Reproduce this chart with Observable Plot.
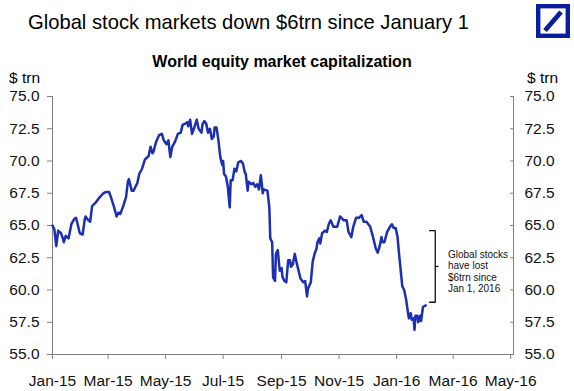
<!DOCTYPE html>
<html><head><meta charset="utf-8">
<script src="https://cdn.jsdelivr.net/npm/d3@7"></script>
<script src="https://cdn.jsdelivr.net/npm/@observablehq/plot@0.6"></script>
<style>
body{margin:0;background:#fff;}
#wrap{position:relative;width:574px;height:391px;font-family:"Liberation Sans",Arial,sans-serif;color:#000;overflow:hidden;background:#fff}
#chart{position:absolute;left:0;top:0}
.t{position:absolute;white-space:nowrap;line-height:1}
</style></head><body>
<div id="wrap">
<div id="chart"></div>
<div class="t" style="left:28px;top:12px;font-size:20.2px">Global stock markets down $6trn since January 1</div>
<div class="t" style="left:0;width:564px;text-align:center;top:54px;font-size:16px;font-weight:bold">World equity market capitalization</div>
<div class="t" style="left:9px;top:70px;font-size:15.5px">$ trn</div>
<div class="t" style="left:527px;top:70px;font-size:15.5px">$ trn</div>
<svg style="position:absolute;left:536px;top:4px" width="34" height="34" viewBox="0 0 34 34">
<rect x="2.2" y="2.2" width="29.6" height="29.6" fill="none" stroke="#0b1f9e" stroke-width="4.4"/>
<line x1="9" y1="26.5" x2="25" y2="8" stroke="#0b1f9e" stroke-width="4.8"/>
</svg>
</div>
<script>
// World equity market capitalization, $ trn
const dates = [
"2015-01-01","2015-01-03","2015-01-05","2015-01-07","2015-01-10","2015-01-12","2015-01-13","2015-01-15","2015-01-18",
"2015-01-21","2015-01-24","2015-01-26","2015-01-28","2015-01-30","2015-02-02","2015-02-04","2015-02-05","2015-02-08",
"2015-02-10","2015-02-12","2015-02-16","2015-02-19","2015-02-24","2015-02-27","2015-03-02","2015-03-04","2015-03-07",
"2015-03-10","2015-03-12","2015-03-14","2015-03-17","2015-03-20","2015-03-22","2015-03-23","2015-03-26","2015-03-28",
"2015-03-30","2015-04-01","2015-04-03","2015-04-06","2015-04-09","2015-04-13","2015-04-15","2015-04-17","2015-04-18",
"2015-04-21","2015-04-24","2015-04-27","2015-04-29","2015-05-02","2015-05-04","2015-05-05","2015-05-06","2015-05-08",
"2015-05-11","2015-05-14","2015-05-17","2015-05-19","2015-05-22","2015-05-24","2015-05-25","2015-05-27","2015-05-29",
"2015-05-31","2015-06-03","2015-06-05","2015-06-08","2015-06-09","2015-06-11","2015-06-13","2015-06-15","2015-06-17",
"2015-06-19","2015-06-21","2015-06-22","2015-06-24","2015-06-26","2015-06-28","2015-06-30","2015-07-01","2015-07-02",
"2015-07-04","2015-07-06","2015-07-08","2015-07-09","2015-07-11","2015-07-13","2015-07-15","2015-07-17","2015-07-20",
"2015-07-22","2015-07-24","2015-07-25","2015-07-27","2015-07-28","2015-07-31","2015-08-02","2015-08-04","2015-08-06",
"2015-08-08","2015-08-10","2015-08-12","2015-08-13","2015-08-17","2015-08-19","2015-08-20","2015-08-22","2015-08-23",
"2015-08-25","2015-08-26","2015-08-28","2015-08-30","2015-09-01","2015-09-02","2015-09-04","2015-09-06","2015-09-08",
"2015-09-10","2015-09-11","2015-09-13","2015-09-15","2015-09-17","2015-09-19","2015-09-21","2015-09-24","2015-09-26",
"2015-09-28","2015-09-29","2015-10-02","2015-10-04","2015-10-06","2015-10-08","2015-10-09","2015-10-11","2015-10-12",
"2015-10-14","2015-10-17","2015-10-19","2015-10-21","2015-10-23","2015-10-26","2015-10-30","2015-11-02","2015-11-06",
"2015-11-09","2015-11-11","2015-11-14","2015-11-16","2015-11-19","2015-11-22","2015-11-25","2015-11-27","2015-11-30",
"2015-12-02","2015-12-04","2015-12-07","2015-12-10","2015-12-12","2015-12-14","2015-12-16","2015-12-17","2015-12-19",
"2015-12-22","2015-12-25","2015-12-27","2015-12-29","2015-12-31","2016-01-02","2016-01-04","2016-01-05","2016-01-07",
"2016-01-09","2016-01-11","2016-01-12","2016-01-14","2016-01-16","2016-01-17","2016-01-19","2016-01-20","2016-01-21",
"2016-01-23","2016-01-24","2016-01-26","2016-01-27","2016-01-29","2016-02-01"
];
const values = [
65.0,64.7,63.4,64.6,64.4,64.0,63.7,64.2,64.0,
65.1,65.5,65.6,65.0,64.4,64.3,65.4,65.7,65.4,
65.3,66.5,66.8,67.1,67.5,67.6,67.6,67.2,66.5,
65.7,66.0,65.9,66.5,67.2,68.4,68.6,67.7,67.7,
68.0,68.3,69.0,69.4,70.1,70.4,71.1,70.6,70.7,
71.5,72.0,72.1,71.6,71.3,71.6,70.9,70.3,71.1,
71.5,72.1,72.2,72.8,72.9,73.0,72.7,73.2,72.1,
72.5,73.2,72.5,72.2,72.8,73.1,72.9,72.2,72.5,
71.7,71.9,72.6,72.6,71.6,70.3,69.7,70.0,69.0,
68.8,68.0,66.4,68.5,68.5,69.4,69.2,69.9,70.0,
69.8,69.1,69.0,67.7,68.4,68.2,68.3,68.0,68.2,
67.8,68.9,67.5,67.8,67.7,66.4,64.0,63.7,61.0,
60.7,62.8,63.1,61.5,61.7,61.0,60.7,60.6,62.3,
62.3,61.8,62.0,62.8,62.1,61.5,60.9,60.6,60.7,
59.5,60.1,60.6,62.2,62.8,63.2,63.7,64.0,63.6,
64.4,64.6,64.5,65.1,65.4,64.9,64.9,65.7,65.4,
65.4,64.5,64.1,64.9,65.6,65.6,65.8,65.3,65.3,
65.1,64.9,64.1,63.2,62.9,63.4,64.1,63.7,63.7,
64.5,64.9,65.1,64.8,64.8,64.1,62.5,61.8,60.3,
60.0,59.3,58.8,57.8,58.2,57.7,57.8,56.9,58.0,
58.0,57.5,58.0,57.6,58.7,58.8
];
const yTicks = [55, 57.5, 60, 62.5, 65, 67.5, 70, 72.5, 75];
const xTickDates = ["2015-01-01","2015-03-01","2015-05-01","2015-07-01","2015-09-01","2015-11-01","2016-01-01","2016-03-01","2016-05-01"];
const xDomainDates = ["2015-01-01","2016-05-04"];
const yDomain = [55, 75];
// annotation bracket: dates and levels
const bracketDates = ["2016-02-05","2016-02-11","2016-02-15"];
const bracketLevels = [64.6, 59.05];
const annotationText = ["Global stocks","have lost","$6trn since","Jan 1, 2016"];
const annotationLevel = 61.45;

const lineColor = "#1b2fb2";
const axisColor = "#808080";

const data = dates.map((d, i) => ({date: new Date(d), value: values[i]}));
const xTicks = xTickDates.map(d => new Date(d));
const xDomain = xDomainDates.map(d => new Date(d));
const bx = bracketDates.map(d => new Date(d));
const bracket = [
  {x: bx[0], y: bracketLevels[0]}, {x: bx[1], y: bracketLevels[0]},
  {x: bx[1], y: bracketLevels[1]}, {x: bx[0], y: bracketLevels[1]}
];
const bracketMid = (bracketLevels[0] + bracketLevels[1]) / 2;

const chart = Plot.plot({
  width: 574, height: 391,
  marginTop: 96, marginBottom: 37, marginLeft: 52, marginRight: 61,
  style: {fontFamily: "'Liberation Sans', Arial, sans-serif", fontSize: "15.5px", color: "#111", background: "transparent"},
  x: {type: "utc", domain: xDomain},
  y: {domain: yDomain},
  marks: [
    Plot.ruleX([xDomain[0]], {stroke: axisColor}),
    Plot.ruleX([xDomain[1]], {stroke: axisColor}),
    Plot.ruleY([yDomain[0]], {stroke: axisColor}),
    Plot.axisY({anchor: "left", ticks: yTicks, tickFormat: d => d.toFixed(1), tickSize: 5, tickPadding: 8, stroke: axisColor, fill: "#111", label: null, fontSize: 15.5}),
    Plot.axisY({anchor: "right", ticks: yTicks, tickFormat: d => d.toFixed(1), tickSize: 0, tickPadding: 11, fill: "#111", label: null, fontSize: 15.5}),
    Plot.axisY({anchor: "right", ticks: yTicks, tickFormat: () => "", tickSize: 4, dx: -4, stroke: axisColor, label: null}),
    Plot.axisX({ticks: xTicks, tickFormat: d3.utcFormat("%b-%y"), tickSize: 5, tickPadding: 15, stroke: axisColor, fill: "#111", label: null, fontSize: 15.5}),
    Plot.line(data, {x: "date", y: "value", stroke: lineColor, strokeWidth: 2.5, curve: "linear"}),
    Plot.line(bracket, {x: "x", y: "y", stroke: "#111", strokeWidth: 1.3}),
    Plot.ruleY([bracketMid], {x1: bx[1], x2: bx[2], stroke: "#111", strokeWidth: 1.3}),
    Plot.text([annotationText.join("\n")], {x: bx[1], y: annotationLevel, text: d => d, dx: 12.7, textAnchor: "start", lineAnchor: "middle", fontSize: 10, lineHeight: 1.13, fill: "#111"})
  ]
});
document.getElementById("chart").appendChild(chart);
</script>
</body></html>
